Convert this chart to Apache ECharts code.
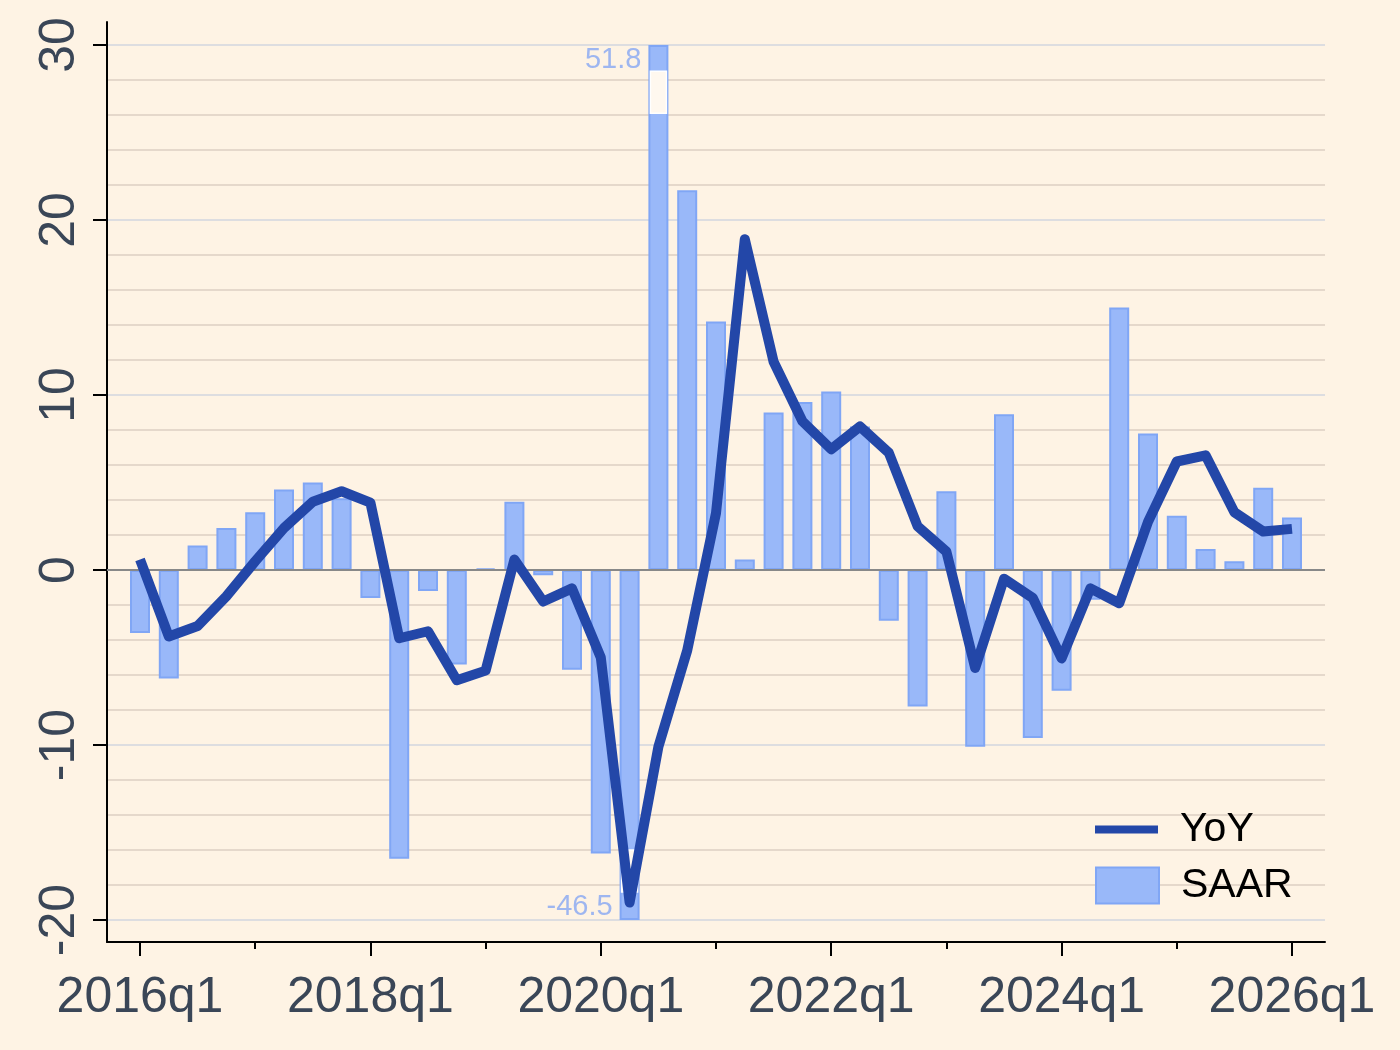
<!DOCTYPE html>
<html>
<head>
<meta charset="utf-8">
<script src="https://cdn.jsdelivr.net/npm/echarts@6/dist/echarts.min.js"></script>
<style>
  html, body { margin: 0; padding: 0; background: #fef3e4; }
  #chart { width: 1400px; height: 1050px; }
</style>
</head>
<body>
<div id="chart"></div>
<script>
// quarters 2016q1 .. 2026q1
const quarters = [
  '2016q1','2016q2','2016q3','2016q4','2017q1','2017q2','2017q3','2017q4',
  '2018q1','2018q2','2018q3','2018q4','2019q1','2019q2','2019q3','2019q4',
  '2020q1','2020q2','2020q3','2020q4','2021q1','2021q2','2021q3','2021q4',
  '2022q1','2022q2','2022q3','2022q4','2023q1','2023q2','2023q3','2023q4',
  '2024q1','2024q2','2024q3','2024q4','2025q1','2025q2','2025q3','2025q4',
  '2026q1'
]

// annualised q/q growth (bars)
const saar = [
  -3.6, -6.2, 1.4, 2.4, 3.3, 4.6, 5.0, 4.1,
  -1.6, -16.5, -1.2, -5.4, 0.1, 3.9, -0.3, -5.7,
  -16.2, -46.5, 51.8, 21.7, 14.2, 0.6, 9.0, 9.6,
  10.2, 8.2, -2.9, -7.8, 4.5, -10.1, 8.9, -9.6,
  -6.9, -1.7, 15.0, 7.8, 3.1, 1.2, 0.5, 4.7,
  3.0
]

// year over year growth (line)
const yoy = [
  0.6, -3.8, -3.2, -1.5, 0.5, 2.4, 3.9, 4.5,
  3.85, -3.9, -3.5, -6.3, -5.75, 0.6, -1.8, -1.05,
  -5.0, -19.0, -10.1, -4.6, 3.25, 18.9, 11.9, 8.5,
  6.9, 8.2, 6.7, 2.5, 1.05, -5.6, -0.5, -1.6,
  -5.05, -1.05, -1.9, 2.75, 6.2, 6.55, 3.3, 2.2,
  2.35
]

const xTickLabels = ['2016q1', '2018q1', '2020q1', '2022q1', '2024q1', '2026q1']
const xMinorTicks = ['2017q1', '2019q1', '2021q1', '2023q1', '2025q1']
const yTicks = [-20, -10, 0, 10, 20, 30]

// broken bars: [quarter, from, to] in axis units
const breakMarks = [['2020q3', 26.1, 28.5], ['2020q2', -18.4, -16.0]]

const yMin = -20
const yMax = 30
const xPad = 1.146

const idx = q => quarters.indexOf(q)
const clip = v => Math.min(Math.max(v, yMin), yMax)

const barData = saar.map((v, i) => [i, clip(v)])
const lineData = yoy.map((v, i) => [i, v])
const outData = saar
  .map((v, i) => ({ value: [i, clip(v)], raw: v }))
  .filter(d => d.raw > yMax || d.raw < yMin)
  .map(d => ({
    value: d.value,
    label: {
      formatter: String(d.raw),
      offset: d.raw > 0 ? [0, 15] : [0, -13]
    }
  }))

const textColor = '#3a4657'
const lineColor = '#2347a8'
const barColor = '#99b8f9'
const barBorder = '#80a6f5'
const bgColor = '#fef3e4'
const font = 'Liberation Sans, Arial, sans-serif'

const chart = echarts.init(document.getElementById('chart'))

const option = {
  backgroundColor: bgColor,
  animation: false,
  grid: [
    { left: 107, right: 75, top: 45, bottom: 130 },
    { left: 107, right: 75, top: 22, bottom: 108 }
  ],
  xAxis: [
    {
      gridIndex: 0, type: 'value', min: -xPad, max: quarters.length - 1 + xPad,
      show: false
    },
    {
      gridIndex: 1, type: 'value', position: 'bottom',
      min: -xPad, max: quarters.length - 1 + xPad,
      axisLine: { show: true, onZero: false, lineStyle: { color: '#000', width: 2 } },
      axisTick: {
        show: true, length: 14, lineStyle: { color: '#000', width: 2 },
        customValues: xTickLabels.map(idx)
      },
      axisLabel: {
        show: true, margin: 31, fontSize: 50, color: textColor, fontFamily: font,
        customValues: xTickLabels.map(idx),
        formatter: v => quarters[Math.round(v)]
      },
      splitLine: { show: false }
    },
    {
      gridIndex: 1, type: 'value', position: 'bottom',
      min: -xPad, max: quarters.length - 1 + xPad,
      axisLine: { show: false, onZero: false },
      axisTick: {
        show: true, length: 7, lineStyle: { color: '#000', width: 2 },
        customValues: xMinorTicks.map(idx)
      },
      axisLabel: { show: false },
      splitLine: { show: false }
    }
  ],
  yAxis: [
    {
      gridIndex: 0, type: 'value', min: yMin, max: yMax, interval: 10,
      position: 'left',
      axisLine: { show: false, onZero: false },
      axisTick: { show: true, length: 14, lineStyle: { color: '#000', width: 2 } },
      axisLabel: {
        rotate: 90, margin: 22, fontSize: 50, color: textColor, fontFamily: font,
        customValues: yTicks
      },
      splitLine: { show: true, lineStyle: { color: '#d2d6df', width: 1.5 } },
      minorTick: { show: false, splitNumber: 5 },
      minorSplitLine: { show: true, lineStyle: { color: '#ddd0c2', width: 1.5 } }
    },
    {
      gridIndex: 1, type: 'value', min: 0, max: 1, position: 'left',
      axisLine: { show: true, onZero: false, lineStyle: { color: '#000', width: 2 } },
      axisTick: { show: false },
      axisLabel: { show: false },
      splitLine: { show: false }
    }
  ],
  legend: [
    {
      data: [{ name: 'YoY', icon: 'rect' }],
      left: 1095, top: 809, padding: 0,
      itemWidth: 63, itemHeight: 8,
      lineStyle: { width: 9 },
      textStyle: { fontSize: 41, color: '#000', lineHeight: 40, padding: [0, 0, 0, 17], fontFamily: font }
    },
    {
      data: [{ name: 'SAAR', icon: 'rect' }],
      left: 1095, top: 865, padding: 0,
      itemWidth: 63, itemHeight: 36,
      textStyle: { fontSize: 41, color: '#000', lineHeight: 40, padding: [0, 0, 0, 17], fontFamily: font }
    }
  ],
  series: [
    {
      name: 'SAAR', type: 'bar', xAxisIndex: 0, yAxisIndex: 0,
      barWidth: 20,
      data: barData,
      itemStyle: { color: barColor, borderColor: barBorder, borderWidth: 2 },
      markLine: {
        silent: true, symbol: 'none', label: { show: false },
        lineStyle: { color: '#888888', width: 2, type: 'solid' },
        data: [{ yAxis: 0 }]
      },
      z: 2
    },
    {
      name: 'breaks', type: 'custom', xAxisIndex: 0, yAxisIndex: 0,
      data: breakMarks.map(b => [idx(b[0]), b[1], b[2]]),
      renderItem: (params, api) => {
        const lo = api.coord([api.value(0), api.value(1)])
        const hi = api.coord([api.value(0), api.value(2)])
        return {
          type: 'rect',
          shape: { x: lo[0] - 8, y: hi[1], width: 16, height: lo[1] - hi[1] },
          style: { fill: '#fff8ef', stroke: '#ffffff', lineWidth: 1.5 }
        }
      },
      silent: true,
      z: 3
    },
    {
      name: 'outliers', type: 'scatter', xAxisIndex: 0, yAxisIndex: 0,
      symbolSize: 0,
      data: outData,
      label: {
        show: true, position: 'left', distance: 17,
        fontSize: 29, color: '#86a6f2', fontFamily: font
      },
      silent: true,
      z: 4
    },
    {
      name: 'YoY', type: 'line', xAxisIndex: 0, yAxisIndex: 0,
      data: lineData,
      showSymbol: false, symbol: 'none',
      color: lineColor,
      lineStyle: { color: lineColor, width: 10, join: 'round', cap: 'butt' },
      z: 5
    }
  ]
}

chart.setOption(option)
</script>
</body>
</html>
